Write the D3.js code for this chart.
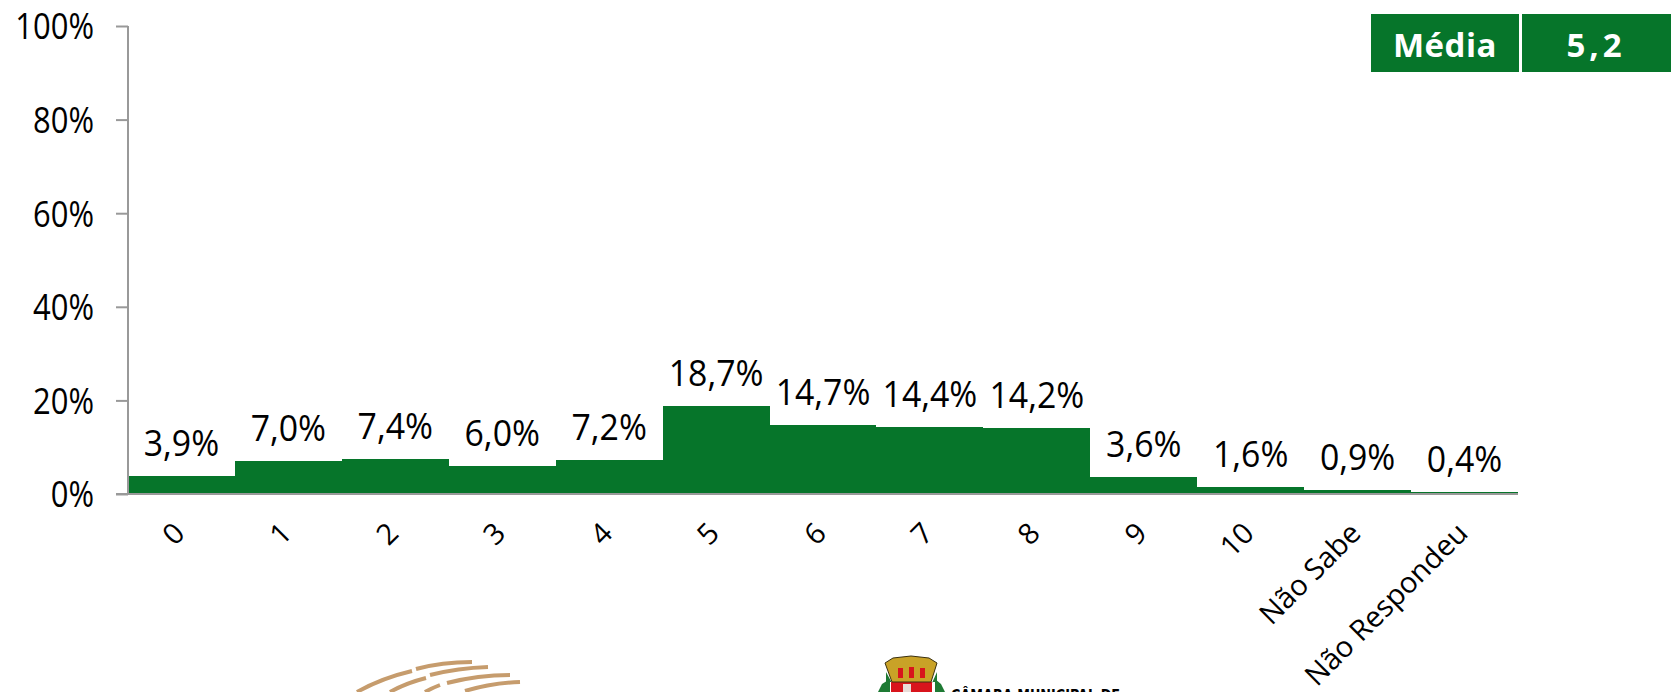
<!DOCTYPE html>
<html>
<head>
<meta charset="utf-8">
<script src="https://cdn.jsdelivr.net/npm/d3@7"></script>
<style>
  html, body { margin: 0; padding: 0; background: #fff; overflow: hidden; }
  text { font-family: "Open Sans", sans-serif; fill: #000; }
</style>
</head>
<body>
<div id="chart"></div>
<script>
var categories = ["0", "1", "2", "3", "4", "5", "6", "7", "8", "9", "10", "Não Sabe", "Não Respondeu"];
var values = [3.9, 7.0, 7.4, 6.0, 7.2, 18.7, 14.7, 14.4, 14.2, 3.6, 1.6, 0.9, 0.4];
var valueLabels = ["3,9%", "7,0%", "7,4%", "6,0%", "7,2%", "18,7%", "14,7%", "14,4%", "14,2%", "3,6%", "1,6%", "0,9%", "0,4%"];
var yTicks = [0, 20, 40, 60, 80, 100];
var boxLabels = ["Média", "5,2"];

var width = 1671, height = 692;
var green = "#06752a", axisGrey = "#999999";

var svg = d3.select("#chart").append("svg")
  .attr("width", width)
  .attr("height", height)
  .style("display", "block");

var x = d3.scaleBand().domain(categories).range([128, 1518]).padding(0);
var y = d3.scaleLinear().domain([0, 100]).range([494, 26]);

// bars touch each other, gap width zero
svg.selectAll(".bar")
  .data(values)
  .enter()
  .append("rect")
    .attr("class", "bar")
    .attr("x", function(d, i) { return x(categories[i]); })
    .attr("y", function(d) { return y(d); })
    .attr("width", x.bandwidth())
    .attr("height", function(d) { return y(0) - y(d); })
    .attr("fill", green)
    .attr("shape-rendering", "crispEdges");

// y axis
var yAxis = svg.append("g")
  .attr("transform", "translate(128,0)")
  .call(d3.axisLeft(y).tickValues(yTicks).tickSize(12).tickPadding(34).tickFormat(function(d) { return d + "%"; }));
yAxis.selectAll("path, line").attr("stroke", axisGrey).attr("stroke-width", 2);
yAxis.select("path").attr("d", "M0," + y(100) + "V" + y(0));
// the original face is narrower than Open Sans, squeeze around the right edge
yAxis.selectAll("text")
  .style("font-size", "36px")
  .attr("dy", "0.36em")
  .attr("x", 0)
  .attr("transform", "translate(-34,0) scale(0.86,1)");

// x axis line only, labels rotated below
svg.append("line")
  .attr("x1", 116).attr("x2", x.range()[1])
  .attr("y1", y(0)).attr("y2", y(0))
  .attr("stroke", axisGrey).attr("stroke-width", 2);

svg.selectAll(".cat")
  .data(categories)
  .enter()
  .append("text")
    .attr("class", "cat")
    .attr("text-anchor", "end")
    .attr("transform", function(d) {
      return "translate(" + (x(d) + x.bandwidth() / 2 + 5) + ",535) rotate(-45)";
    })
    .style("font-size", "29px")
    .text(function(d) { return d; });

// value labels
svg.selectAll(".val")
  .data(values)
  .enter()
  .append("text")
    .attr("class", "val")
    .attr("text-anchor", "middle")
    .attr("transform", function(d, i) {
      return "translate(" + (x(categories[i]) + x.bandwidth() / 2) + "," + (y(d) - 20) + ") scale(0.94,1)";
    })
    .style("font-size", "36px")
    .text(function(d, i) { return valueLabels[i]; });

// media box, top right
var boxes = svg.selectAll(".box")
  .data(boxLabels)
  .enter()
  .append("g")
    .attr("class", "box");
boxes.append("rect")
  .attr("x", function(d, i) { return i == 0 ? 1371 : 1522; })
  .attr("y", 14)
  .attr("width", function(d, i) { return i == 0 ? 148 : 149; })
  .attr("height", 58)
  .attr("fill", green);
boxes.append("text")
  .attr("x", function(d, i) { return i == 0 ? 1445 : 1596; })
  .attr("y", 57)
  .attr("text-anchor", "middle")
  .style("fill", "#fff")
  .style("font-weight", "bold")
  .style("font-size", "33px")
  .style("letter-spacing", function(d, i) { return i == 0 ? "0.5px" : "4px"; })
  .text(function(d) { return d; });

// logos cut off by the bottom edge of the slide
var logoArcs = [
  "M416,669Q442,662 472,662",
  "M430,675Q458,668 488,667",
  "M447,683Q478,675 510,675",
  "M465,691Q492,683 520,682",
  "M357,692Q382,678 412,671",
  "M390,692Q406,683 426,678",
  "M425,692Q432,688 440,685"
];
svg.append("g").selectAll("path")
  .data(logoArcs)
  .enter()
  .append("path")
    .attr("d", function(d) { return d; })
    .attr("fill", "none")
    .attr("stroke", "#c69c6d")
    .attr("stroke-width", 4);

var crest = svg.append("g");
crest.append("path").attr("d", "M886,672L892,683H932L937,672V682H886Z").attr("fill", "#1e7a34");
crest.append("path").attr("d", "M878,692L882,684L890,679V692ZM945,692L941,684L935,679V692Z").attr("fill", "#1e7a34");
crest.append("rect").attr("x", 891).attr("y", 682).attr("width", 41).attr("height", 10).attr("fill", "#d8141c");
crest.append("path").attr("d", "M885,663L893,658L911,656L929,658L937,663L931,682H892Z").attr("fill", "#c9a227").attr("stroke", "#3a3010").attr("stroke-width", 1);
crest.append("rect").attr("x", 898).attr("y", 668).attr("width", 5).attr("height", 10).attr("fill", "#d8141c");
crest.append("rect").attr("x", 909).attr("y", 667).attr("width", 5).attr("height", 11).attr("fill", "#d8141c");
crest.append("rect").attr("x", 920).attr("y", 668).attr("width", 5).attr("height", 10).attr("fill", "#d8141c");
crest.append("rect").attr("x", 903).attr("y", 684).attr("width", 8).attr("height", 8).attr("fill", "#e8dcd8");

svg.append("text")
  .attr("x", 951)
  .attr("y", 701)
  .attr("textLength", 169)
  .attr("lengthAdjust", "spacingAndGlyphs")
  .style("font-family", "'DejaVu Sans', sans-serif")
  .style("font-weight", "bold")
  .style("font-size", "15px")
  .text("CÂMARA MUNICIPAL DE");
</script>
</body>
</html>
